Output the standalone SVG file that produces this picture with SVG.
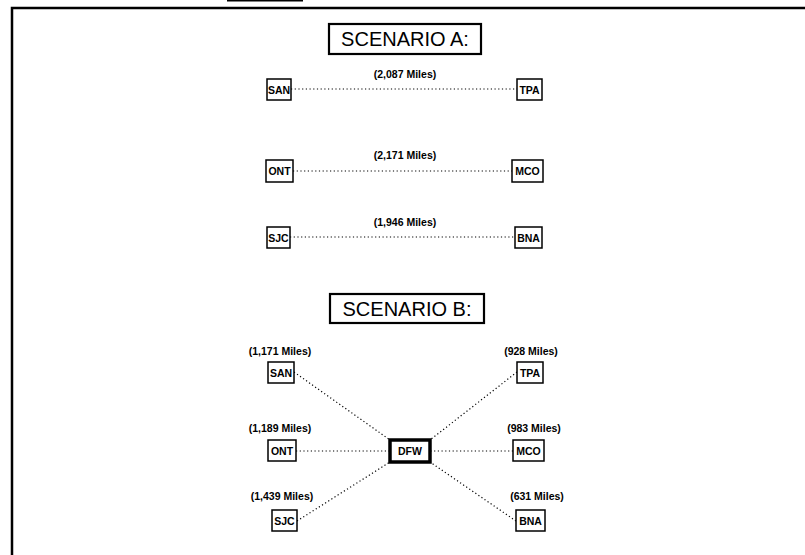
<svg xmlns="http://www.w3.org/2000/svg" width="805" height="555" viewBox="0 0 805 555">
<style>
.frame{stroke:#000;stroke-width:2.5;fill:none}
.box{fill:#fff;stroke:#000;stroke-width:1.5}
.hub{fill:#fff;stroke:#000;stroke-width:3.5}
.title{fill:#fff;stroke:#000;stroke-width:2.2}
.tt{font-family:"Liberation Sans",Arial,sans-serif;font-size:20px;fill:#000;text-anchor:middle}
.nt{font-family:"Liberation Sans",Arial,sans-serif;font-size:10.5px;font-weight:bold;fill:#000;text-anchor:middle}
.lb{font-family:"Liberation Sans",Arial,sans-serif;font-size:10.5px;font-weight:bold;fill:#000;text-anchor:middle}
.dot{stroke:#000;stroke-width:1.2;stroke-dasharray:1.2 2.5;fill:none}
</style>
<rect width="805" height="555" fill="#fff"/>
<g id="frame">
<path class="frame" d="M12 555 V8 H805"/>
<line x1="227" y1="0.8" x2="303" y2="0.8" stroke="#000" stroke-width="1.6"/>
</g>
<g id="connectors">
<line class="dot" x1="291" y1="89" x2="517" y2="89"/>
<line class="dot" x1="293" y1="171" x2="512" y2="171"/>
<line class="dot" x1="290" y1="237" x2="515" y2="237"/>
<line class="dot" x1="294" y1="372" x2="390" y2="440"/>
<line class="dot" x1="517" y1="372" x2="430" y2="440"/>
<line class="dot" x1="296" y1="451" x2="390" y2="451"/>
<line class="dot" x1="513" y1="451" x2="430" y2="451"/>
<line class="dot" x1="297" y1="521" x2="390" y2="462"/>
<line class="dot" x1="516" y1="521" x2="430" y2="462"/>
</g>
<g id="scenarioA">
<rect class="title" x="329" y="24" width="152" height="30"/>
<text class="tt" x="405" y="46">SCENARIO A:</text>
</g>
<g id="A-SAN"><rect class="box" x="267" y="79" width="24" height="21"/><text class="nt" x="279" y="93.500">SAN</text></g>
<g id="A-TPA"><rect class="box" x="517" y="79" width="25" height="21"/><text class="nt" x="529.500" y="93.500">TPA</text></g>
<g id="A-ONT"><rect class="box" x="266" y="160" width="27" height="22"/><text class="nt" x="279.500" y="175">ONT</text></g>
<g id="A-MCO"><rect class="box" x="512" y="160" width="31" height="22"/><text class="nt" x="527.500" y="175">MCO</text></g>
<g id="A-SJC"><rect class="box" x="267" y="227" width="23" height="21"/><text class="nt" x="278.500" y="241.500">SJC</text></g>
<g id="A-BNA"><rect class="box" x="515" y="227" width="27" height="21"/><text class="nt" x="528.500" y="241.500">BNA</text></g>
<g id="A-labels">
<text class="lb" x="405" y="78">(2,087 Miles)</text>
<text class="lb" x="405" y="159">(2,171 Miles)</text>
<text class="lb" x="405" y="226">(1,946 Miles)</text>
</g>
<g id="scenarioB">
<rect class="title" x="330" y="294" width="154" height="29"/>
<text class="tt" x="407" y="315.500">SCENARIO B:</text>
</g>
<g id="B-SAN"><rect class="box" x="268" y="362" width="26" height="21"/><text class="nt" x="281" y="376.500">SAN</text></g>
<g id="B-TPA"><rect class="box" x="517" y="362" width="26" height="21"/><text class="nt" x="530" y="376.500">TPA</text></g>
<g id="B-ONT"><rect class="box" x="268" y="440" width="28" height="21"/><text class="nt" x="282" y="454.500">ONT</text></g>
<g id="B-DFW"><rect class="hub" x="390" y="440" width="40" height="22"/><text class="nt" x="410" y="455">DFW</text></g>
<g id="B-MCO"><rect class="box" x="513" y="440" width="31" height="21"/><text class="nt" x="528.500" y="454.500">MCO</text></g>
<g id="B-SJC"><rect class="box" x="272" y="510" width="25" height="21"/><text class="nt" x="284.500" y="524.500">SJC</text></g>
<g id="B-BNA"><rect class="box" x="516" y="510" width="29" height="21"/><text class="nt" x="530.500" y="524.500">BNA</text></g>
<g id="B-labels">
<text class="lb" x="280" y="355">(1,171 Miles)</text>
<text class="lb" x="531" y="355">(928 Miles)</text>
<text class="lb" x="280" y="432">(1,189 Miles)</text>
<text class="lb" x="534" y="432">(983 Miles)</text>
<text class="lb" x="282" y="500">(1,439 Miles)</text>
<text class="lb" x="537" y="500">(631 Miles)</text>
</g>
</svg>
